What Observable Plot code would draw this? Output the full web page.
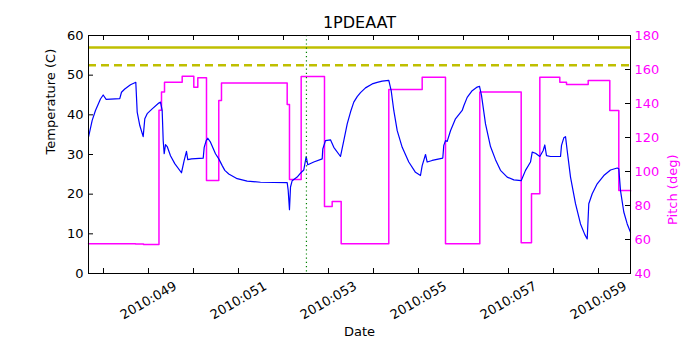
<!DOCTYPE html>
<html>
<head>
<meta charset="utf-8">
<script src="https://cdn.jsdelivr.net/npm/d3@7"></script>
<script src="https://cdn.jsdelivr.net/npm/@observablehq/plot@0.6"></script>
<style>
  html, body { margin: 0; padding: 0; background: white; }
</style>
</head>
<body>
<div id="chart"></div>
<script>
// ---- data (x in day-of-year 2010, fractional) ----
const titleText = "1PDEAAT";
const tempDays = [47.667,47.749,47.822,47.933,47.993,48.060,48.362,48.400,48.473,48.600,48.696,48.718,48.749,48.807,48.882,48.918,48.971,49.082,49.229,49.267,49.304,49.327,49.349,49.378,49.416,49.489,49.584,49.733,49.793,49.844,49.873,49.956,50.216,50.238,50.282,50.318,50.378,50.489,50.562,50.638,50.696,50.784,50.971,51.193,51.489,52.082,52.104,52.133,52.156,52.193,52.304,52.378,52.451,52.504,52.540,52.673,52.860,52.873,52.933,53.044,53.118,53.267,53.340,53.416,53.489,53.562,53.638,53.711,53.822,53.971,54.082,54.193,54.340,54.393,54.451,54.527,54.638,54.784,54.933,55.044,55.082,55.156,55.193,55.304,55.540,55.562,55.600,55.638,55.711,55.822,55.971,56.007,56.082,56.193,56.304,56.356,56.400,56.489,56.600,56.711,56.822,56.971,57.118,57.282,57.378,57.489,57.527,57.600,57.696,57.771,57.807,57.844,57.933,58.156,58.178,58.229,58.267,58.304,58.378,58.489,58.600,58.696,58.749,58.784,58.860,58.971,59.118,59.267,59.416,59.451,59.489,59.562,59.638,59.711];
const tempValues = [34.4,38.6,41.1,44.0,45.0,43.9,44.1,45.7,46.5,47.6,48.1,48.2,40.7,37.3,34.5,39.0,40.3,41.5,43.0,43.2,41.1,33.5,30.2,32.5,32.0,29.7,27.7,25.4,28.5,30.8,28.7,28.9,29.1,31.8,33.5,34.1,33.1,30.2,28.9,27.2,26.0,25.1,23.9,23.3,23.0,22.9,21.0,16.1,21.8,23.4,24.3,25.3,26.1,29.5,27.4,28.1,28.9,31.4,33.5,33.7,31.8,29.5,33.5,37.7,40.7,43.2,44.6,45.6,46.8,47.8,48.2,48.5,48.7,46.1,41.1,36.0,31.8,28.1,25.5,24.7,27.2,30.0,28.1,28.5,29.1,32.3,33.5,33.3,36.0,39.0,41.1,42.3,44.4,46.1,47.0,47.2,44.9,37.7,32.0,28.7,26.0,24.3,23.6,23.4,26.0,28.1,30.6,30.3,29.5,31.0,32.4,29.7,29.5,29.5,32.3,34.2,34.5,31.0,24.3,17.6,12.5,9.8,8.7,17.6,20.1,22.6,24.7,26.1,26.6,26.4,20.9,15.5,12.5,10.4];

const pitchDays = [47.667,48.711,48.889,49.233,49.289,49.356,49.749,50.007,50.096,50.289,50.562,50.622,52.082,52.133,52.393,52.911,53.082,53.282,54.340,55.082,55.600,56.362,57.282,57.511,57.696,58.140,58.289,58.771,59.251,59.451,59.711];
const pitchValues = [57.5,57.3,57.0,136.0,146.7,152.5,156.0,149.6,155.1,94.7,141.8,152.0,139.4,95.3,155.9,79.4,82.4,57.5,148.2,155.5,57.5,146.7,58.1,86.9,155.5,152.5,151.2,153.5,135.9,88.8,88.5];

const tempLimitSolid = [57];
const tempLimitDashed = [52.5];
const markerDay = [52.51];

const allTickDays = [48,49,50,51,52,53,54,55,56,57,58,59];
const labelDays = [49,51,53,55,57,59];
const tempTicks = [0,10,20,30,40,50,60];
const pitchTicks = [40,60,80,100,120,140,160,180];

// ---- build tables ----
const tempData = tempDays.map((d, i) => ({day: d, temp: tempValues[i]}));
const pitchData = pitchDays.map((d, i) => ({day: d, pitch: pitchValues[i]}));
const pitchToTemp = p => (p - 40) * 60 / 140;
const tempToPitch = t => Math.round(t * 140 / 60 + 40);
const fmtDay = d => "2010:" + String(d).padStart(3, "0");

const W = 700, H = 350;
const mL = 88, mR = 70, mT = 35, mB = 77;
const plotW = W - mL - mR, plotH = H - mT - mB;
const tick = 5;
const magenta = "#ff00ff";

const chart = Plot.plot({
  width: W, height: H,
  marginLeft: mL, marginRight: mR, marginTop: mT, marginBottom: mB,
  style: {fontFamily: "DejaVu Sans", fontSize: "13px", background: "white", color: "black"},
  x: {domain: [47.667, 59.711], axis: null},
  y: {domain: [0, 60], axis: null},
  marks: [
    Plot.ruleY(tempLimitSolid, {stroke: "#bfbf00", strokeWidth: 2.5}),
    Plot.ruleY(tempLimitDashed, {stroke: "#bfbf00", strokeWidth: 2.5, strokeDasharray: "8,5"}),
    Plot.line(pitchData, {x: "day", y: d => pitchToTemp(d.pitch), stroke: magenta, strokeWidth: 1.5, curve: "step-after"}),
    Plot.line(tempData, {x: "day", y: "temp", stroke: "#0000ff", strokeWidth: 1.2}),
    Plot.ruleX(markerDay, {stroke: "#008000", strokeWidth: 1.2, strokeDasharray: "1.2,3"}),
    Plot.frame({stroke: "black", strokeWidth: 1}),
    // inward tick marks
    Plot.tickX(allTickDays, {x: d => d, insetTop: plotH - tick, stroke: "black"}),
    Plot.tickX(allTickDays, {x: d => d, insetBottom: plotH - tick, stroke: "black"}),
    Plot.tickY(tempTicks, {y: d => d, insetRight: plotW - tick, stroke: "black"}),
    Plot.tickY(pitchTicks, {y: d => pitchToTemp(d), insetLeft: plotW - tick, stroke: "black"}),
    // tick labels
    Plot.axisY(tempTicks, {anchor: "left", label: null, tickSize: 0, tickPadding: 5, fontSize: 13, fill: "black"}),
    Plot.axisY(pitchTicks.map(pitchToTemp), {anchor: "right", label: null, tickSize: 0, tickPadding: 4, fontSize: 13, fill: magenta, tickFormat: tempToPitch}),
    Plot.text(labelDays, {x: d => d, text: fmtDay, frameAnchor: "bottom", lineAnchor: "middle", dy: 27, rotate: -30, textAnchor: "middle", fontSize: 13, fill: "black"}),
    // titles
    Plot.text([titleText], {frameAnchor: "top", lineAnchor: "middle", dy: -13, fontSize: 16, fill: "black"}),
    Plot.text(["Date"], {frameAnchor: "bottom", lineAnchor: "middle", dy: 58, fontSize: 13, fill: "black"}),
    Plot.text(["Temperature (C)"], {frameAnchor: "left", lineAnchor: "middle", dx: -38, rotate: -90, fontSize: 13, fill: "black"}),
    Plot.text(["Pitch (deg)"], {frameAnchor: "right", lineAnchor: "middle", dx: 42, rotate: -90, fontSize: 13, fill: magenta})
  ]
});
document.getElementById("chart").appendChild(chart);
</script>
</body>
</html>
